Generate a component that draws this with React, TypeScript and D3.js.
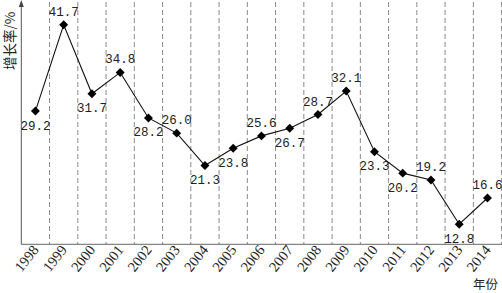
import React from "react";
import * as d3 from "d3";

const years = ["1998","1999","2000","2001","2002","2003","2004","2005","2006","2007","2008","2009","2010","2011","2012","2013","2014"];
const growth = [29.2,41.7,31.7,34.8,28.2,26.0,21.3,23.8,25.6,26.7,28.7,32.1,23.3,20.2,19.2,12.8,16.6];
const labelSide = ["below","above","below","above","below","above","below","below","above","below","above","above","below","below","above","below","above"];
const yAxisTitle = "增长率/%";
const xAxisTitle = "年份";

const W = 502, H = 293;
const left = 21.3, right = 501.6, axisY = 244.3;

export default function App() {
  const x = d3.scaleBand<string>().domain(years).range([left, right]).paddingInner(0).paddingOuter(0);
  const y = d3.scaleLinear().domain([10, 45.3]).range([243.5, 0]);
  const line = d3.line<number>().x((_, i) => (x(years[i]) as number) + x.bandwidth() / 2).y(d => y(d));
  const diamond = d3.symbol().type(d3.symbolSquare).size(40)();
  const bw = x.bandwidth();
  return (
    <svg width={W} height={H} style={{ position: "absolute", left: 0, top: 0, background: "#fff" }}>
      {years.map((yr) => (
        <line key={"g" + yr} x1={(x(yr) as number) + bw} x2={(x(yr) as number) + bw} y1={2} y2={axisY}
          stroke="#8a8a8a" strokeWidth={1} strokeDasharray="5,3" />
      ))}
      <line x1={left} x2={W} y1={axisY} y2={axisY} stroke="#666" strokeWidth={1} />
      <line x1={left} x2={left} y1={3} y2={axisY} stroke="#555" strokeWidth={1} />
      <path d={`M${left},0 L${left - 2.5},7 L${left + 2.5},7 Z`} fill="#444" />
      <path d={line(growth) || ""} fill="none" stroke="#111" strokeWidth={1.1} />
      {growth.map((v, i) => {
        const cx = (x(years[i]) as number) + bw / 2;
        const cy = y(v);
        return (
          <g key={"p" + i}>
            <path d={diamond || ""} transform={`translate(${cx},${cy}) rotate(45)`} fill="#000" />
            <text x={cx} y={labelSide[i] === "above" ? cy - 9 : cy + 18.5} textAnchor="middle"
              fontFamily="'Liberation Mono', monospace" fontSize={12.5} fill="#222">{v.toFixed(1)}</text>
          </g>
        );
      })}
      {years.map((yr) => {
        const cx = (x(yr) as number) + bw / 2;
        return (
          <text key={"t" + yr} transform={`translate(${cx + 4},${250}) rotate(-52)`} textAnchor="end"
            fontFamily="'Liberation Serif', serif" fontSize={14.5} fill="#222">{yr}</text>
        );
      })}
      <text transform={`translate(14.5,41) rotate(-90)`} textAnchor="middle"
        fontFamily="'Noto Sans CJK SC', sans-serif" fontSize={13.5} fill="#222">{yAxisTitle}</text>
      <text x={498} y={289} textAnchor="end" fontFamily="'Noto Sans CJK SC', sans-serif" fontSize={12.5} fill="#222">{xAxisTitle}</text>
    </svg>
  );
}
